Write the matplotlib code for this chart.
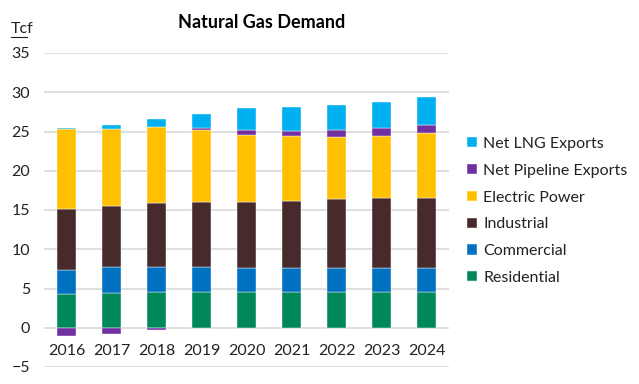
import matplotlib
matplotlib.use("Agg")
import matplotlib.pyplot as plt
import numpy as np

years = ["2016", "2017", "2018", "2019", "2020", "2021", "2022", "2023", "2024"]
residential = [4.27, 4.49, 4.53, 4.53, 4.53, 4.53, 4.53, 4.53, 4.53]
commercial = [3.12, 3.20, 3.25, 3.16, 3.12, 3.12, 3.12, 3.12, 3.12]
industrial = [7.80, 7.87, 8.12, 8.34, 8.38, 8.50, 8.72, 8.85, 8.89]
electric = [10.10, 9.78, 9.65, 9.14, 8.50, 8.25, 7.95, 7.95, 8.25]
pipeline = [-1.1, -0.8, -0.3, 0.26, 0.60, 0.69, 0.89, 0.98, 1.02]
lng = [0.10, 0.50, 0.98, 1.83, 2.81, 2.97, 3.11, 3.36, 3.53]

series = [
    ("Residential", residential, "#00875A"),
    ("Commercial", commercial, "#0070C0"),
    ("Industrial", industrial, "#472A2B"),
    ("Electric Power", electric, "#FFC000"),
    ("Net Pipeline Exports", pipeline, "#7030A0"),
    ("Net LNG Exports", lng, "#00B0F0"),
]

plt.rcParams['font.family'] = ['Lato', 'DejaVu Sans']

fig = plt.figure(figsize=(6.39, 3.84), dpi=100)
ax = fig.add_axes([44/639, 1-367/384, 405/639, (367-53)/384])

x = np.arange(len(years))
pos_base = np.zeros(len(years))
neg_base = np.zeros(len(years))
handles = []
for name, vals, color in series:
    v = np.array(vals, dtype=float)
    bottoms = np.where(v >= 0, pos_base, neg_base)
    h = ax.bar(x, v, 0.41, bottom=bottoms, color=color, label=name,
               edgecolor="white", linewidth=0.3, zorder=3)
    handles.append(h)
    pos_base = pos_base + np.where(v >= 0, v, 0)
    neg_base = neg_base + np.where(v < 0, v, 0)

ax.set_xlim(-0.5, len(years) - 0.5)
ax.set_ylim(-5, 35)
ax.set_yticks(np.arange(-5, 36, 5))
ax.yaxis.grid(True, color="#D9D9D9", linewidth=1.2, zorder=0)
ax.set_axisbelow(True)
for s in ax.spines.values():
    s.set_visible(False)
ax.spines['bottom'].set_position(('data', 0))
ax.set_xticks(x)
ax.set_xticklabels(years)
ax.tick_params(axis='x', length=0, pad=12, labelsize=11.5, colors="#222222")
ax.tick_params(axis='y', length=0, pad=10, labelsize=11.5, colors="#222222")

fig.text(262/639, 1-23/384, "Natural Gas Demand", ha="center", va="center",
         fontsize=13, fontweight="bold", color="black")
fig.text(11/639, 1-29/384, "Tcf", ha="left", va="center", fontsize=11.5,
         color="#222222")
fig.lines.append(plt.Line2D([11/639, 27/639], [1-37/384, 1-37/384],
                            transform=fig.transFigure, color="#222222", linewidth=0.8))

leg = fig.legend(handles[::-1], [s[0] for s in series][::-1],
                 loc="center left", bbox_to_anchor=(461/639, 1-211/384),
                 frameon=False, fontsize=11.5, handlelength=0.6, handleheight=0.6,
                 handletextpad=0.4, labelspacing=0.8, borderaxespad=0)
for t in leg.get_texts():
    t.set_color("#222222")

fig.savefig("out.png", dpi=100)
